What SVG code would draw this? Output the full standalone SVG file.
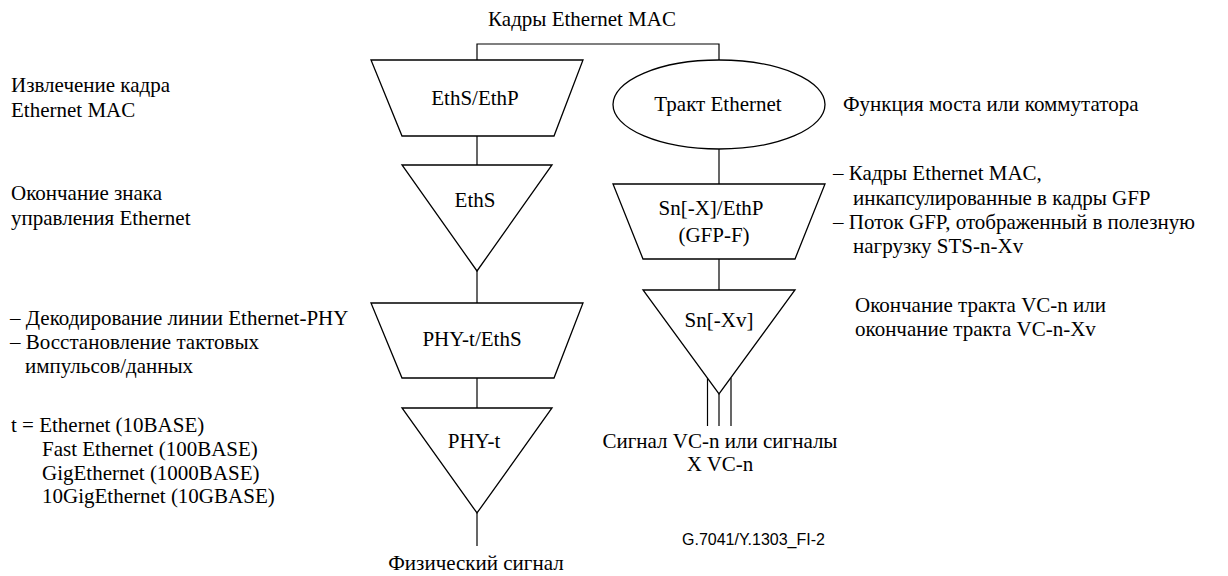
<svg xmlns="http://www.w3.org/2000/svg" width="1228" height="576" viewBox="0 0 1228 576">
  <style>
    .shape { fill: #fff; stroke: #000; stroke-width: 1.3; }
    .conn { fill: none; stroke: #000; stroke-width: 1.2; }
    text { font-family: "Liberation Serif", "Times New Roman", serif; font-size: 21px; fill: #000; }
    .mid { text-anchor: middle; }
    .ref { font-family: "Liberation Sans", Arial, sans-serif; font-size: 16px; }
  </style>

  <!-- connectors -->
  <g id="connectors">
    <polyline class="conn" points="477,60 477,44 719,44 719,60"/>
    <line class="conn" x1="477" y1="136" x2="477" y2="165"/>
    <line class="conn" x1="477" y1="271" x2="477" y2="303"/>
    <line class="conn" x1="477" y1="378" x2="477" y2="408"/>
    <line class="conn" x1="477" y1="513" x2="477" y2="546"/>
    <line class="conn" x1="719" y1="149" x2="719" y2="184"/>
    <line class="conn" x1="719" y1="259" x2="719" y2="290"/>
    <!-- multiplexed signal leads below Sn[-Xv] -->
    <line class="conn" x1="707.5" y1="378" x2="707.5" y2="426" stroke-width="1.6"/>
    <line class="conn" x1="731" y1="378" x2="731" y2="426" stroke-width="1.6"/>
    <line class="conn" x1="719" y1="394" x2="719" y2="426" stroke="#777"/>
  </g>

  <!-- left column -->
  <g id="node-eths-ethp">
    <polygon class="shape" points="371,60 583,60 554,136 402,136"/>
    <text class="mid" x="475" y="105">EthS/EthP</text>
  </g>
  <g id="node-eths">
    <polygon class="shape" points="402,165 552,165 477,271"/>
    <text class="mid" x="475" y="207">EthS</text>
  </g>
  <g id="node-phy-t-eths">
    <polygon class="shape" points="371,303 583,303 554,378 402,378"/>
    <text class="mid" x="472" y="346">PHY-t/EthS</text>
  </g>
  <g id="node-phy-t">
    <polygon class="shape" points="402,408 552,408 477,513"/>
    <text class="mid" x="474" y="448">PHY-t</text>
  </g>

  <!-- right column -->
  <g id="node-path">
    <ellipse class="shape" cx="719" cy="104.5" rx="106" ry="44.5"/>
    <text class="mid" x="718" y="111">Тракт Ethernet</text>
  </g>
  <g id="node-sn-ethp">
    <polygon class="shape" points="613,184 825,184 795,259 643,259"/>
    <text class="mid" x="711" y="215">Sn[-X]/EthP</text>
    <text class="mid" x="714" y="242">(GFP-F)</text>
  </g>
  <g id="node-sn-xv">
    <polygon class="shape" points="643,290 795,290 719,394"/>
    <text class="mid" x="719" y="327">Sn[-Xv]</text>
  </g>

  <!-- labels -->
  <g id="labels">
    <text class="mid" x="582" y="26">Кадры Ethernet MAC</text>

    <text x="11" y="92">Извлечение кадра</text>
    <text x="11" y="117">Ethernet MAC</text>

    <text x="11" y="200">Окончание знака</text>
    <text x="11" y="225">управления Ethernet</text>

    <text x="10" y="325">– Декодирование линии Ethernet-PHY</text>
    <text x="10" y="349">– Восстановление тактовых</text>
    <text x="25" y="373">импульсов/данных</text>

    <text x="11" y="432">t = Ethernet (10BASE)</text>
    <text x="42" y="456">Fast Ethernet (100BASE)</text>
    <text x="42" y="480">GigEthernet (1000BASE)</text>
    <text x="42" y="503">10GigEthernet (10GBASE)</text>

    <text x="843" y="111">Функция моста или коммутатора</text>

    <text x="833" y="180">– Кадры Ethernet MAC,</text>
    <text x="853" y="205">инкапсулированные в кадры GFP</text>
    <text x="833" y="229">– Поток GFP, отображенный в полезную</text>
    <text x="853" y="253">нагрузку STS-n-Xv</text>

    <text x="855" y="312">Окончание тракта VC-n или</text>
    <text x="855" y="336">окончание тракта VC-n-Xv</text>

    <text class="mid" x="720" y="448">Сигнал VC-n или сигналы</text>
    <text class="mid" x="720" y="471">X VC-n</text>

    <text class="mid" x="476" y="570">Физический сигнал</text>

    <text class="ref" x="682" y="545">G.7041/Y.1303_FI-2</text>
  </g>
</svg>
